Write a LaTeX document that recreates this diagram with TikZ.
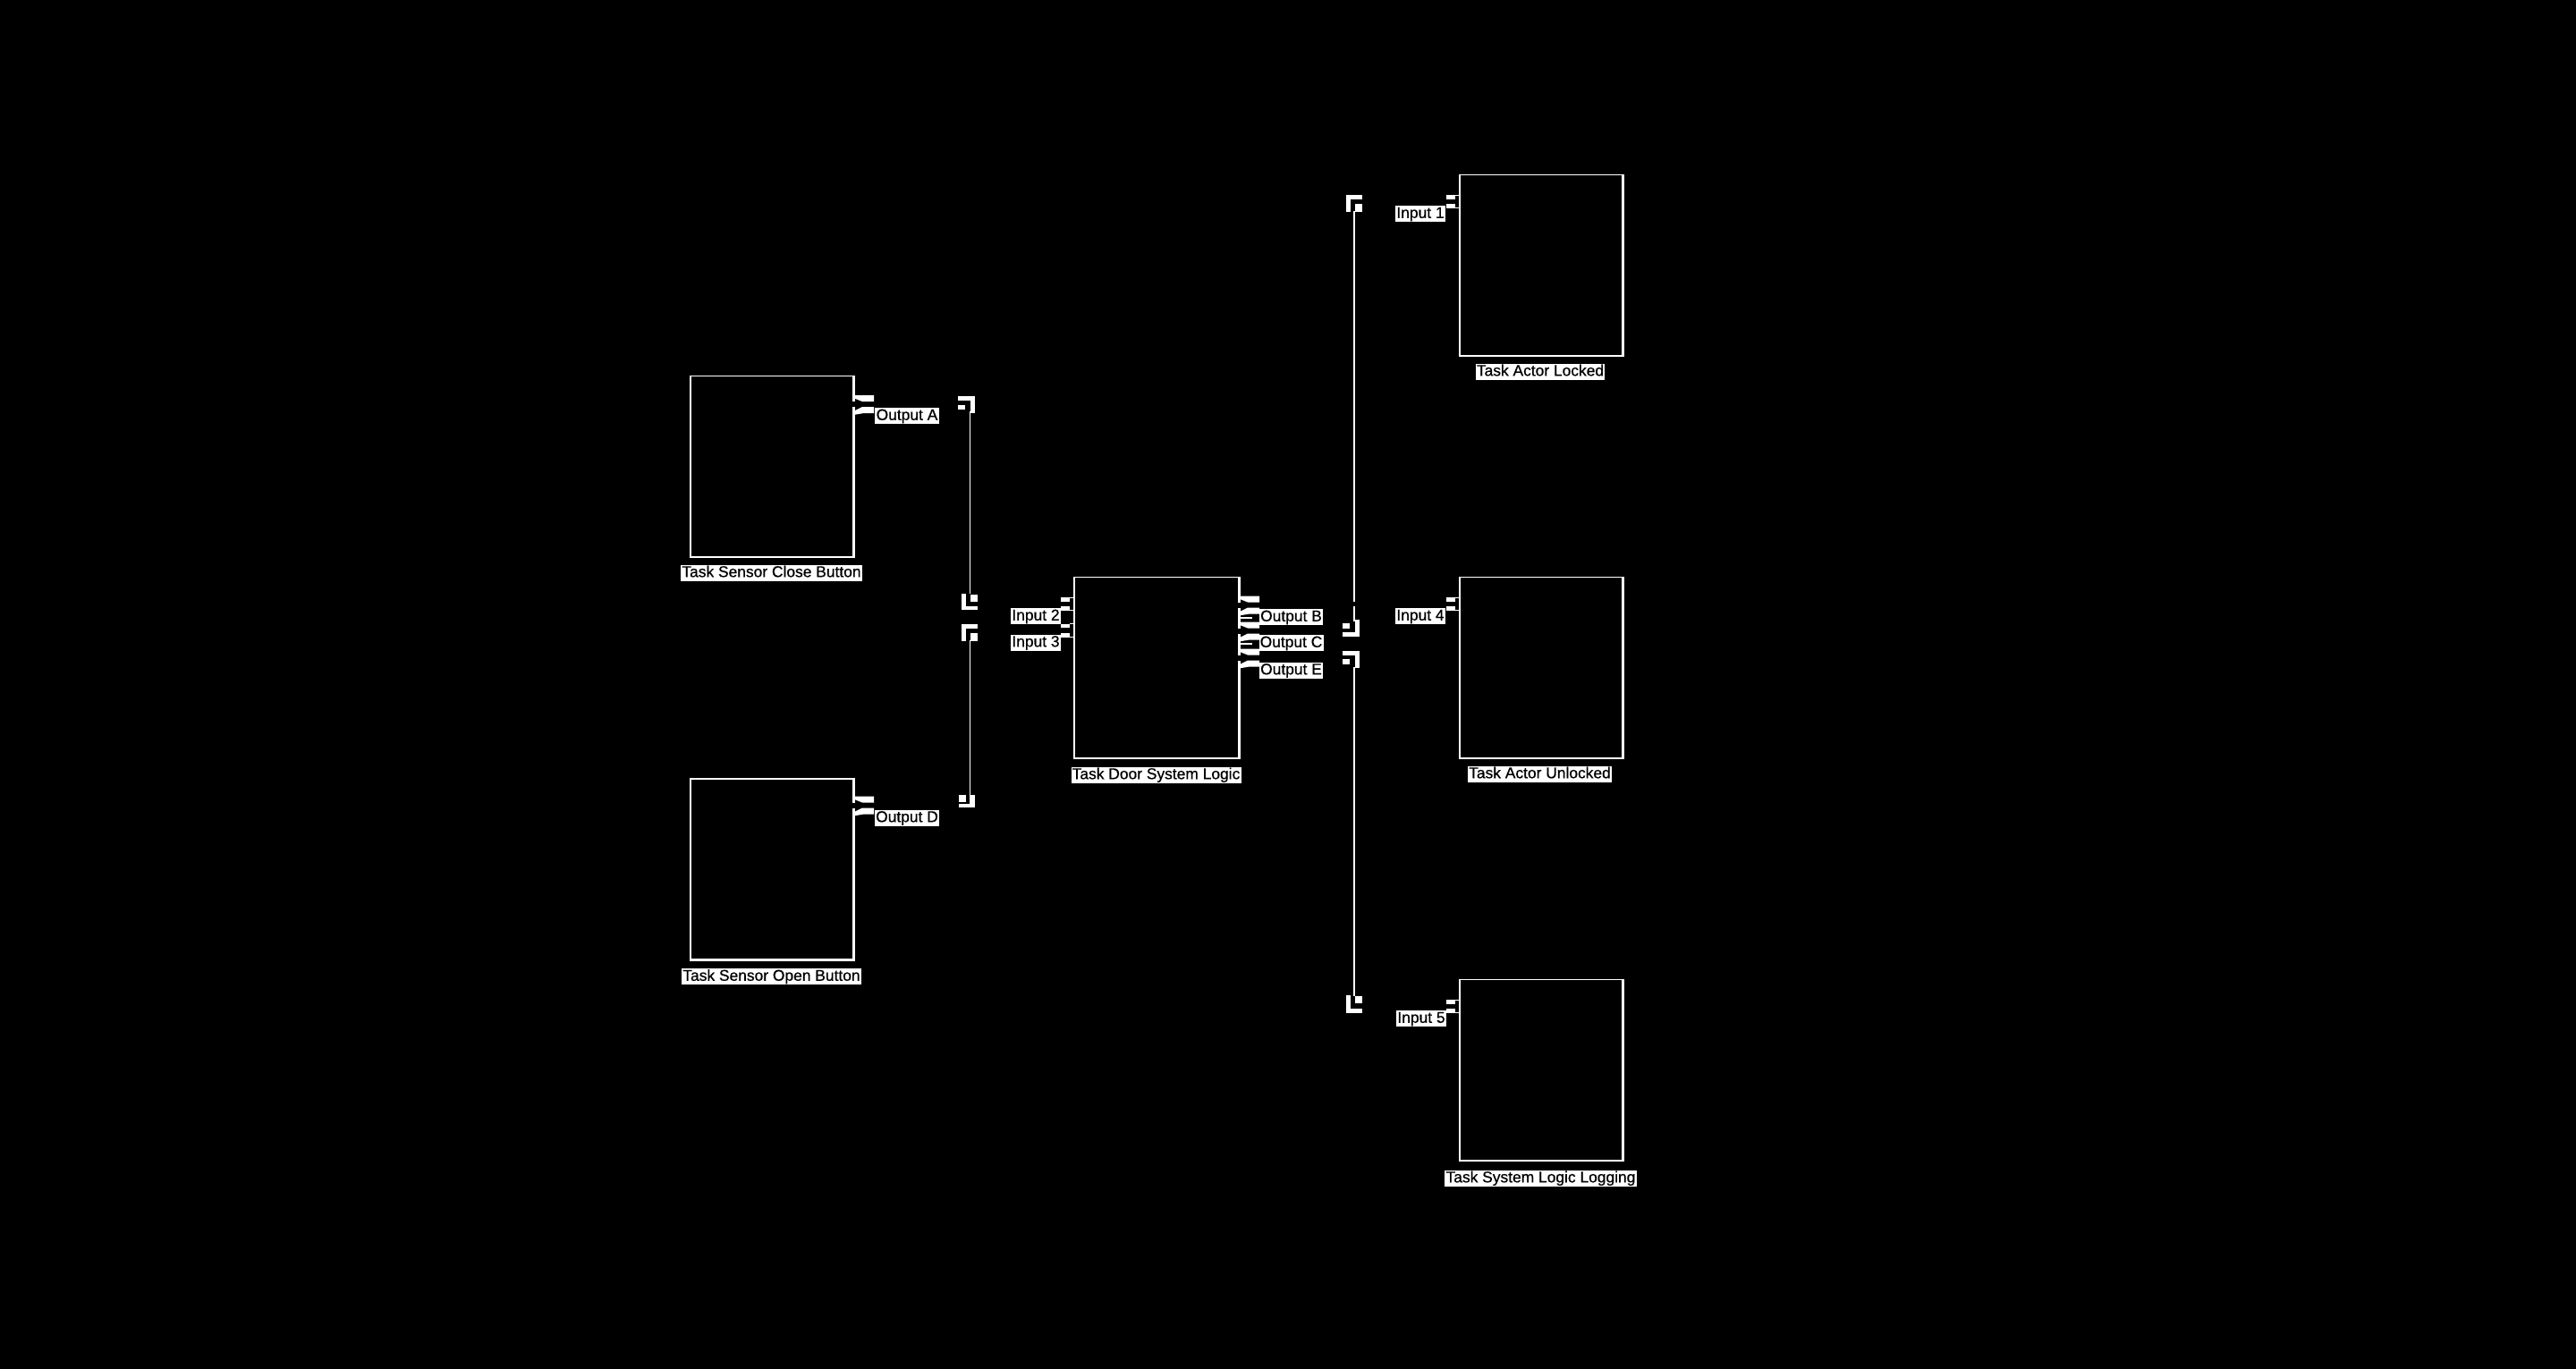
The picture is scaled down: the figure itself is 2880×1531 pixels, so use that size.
\documentclass[tikz,border=0pt]{standalone}
\usepackage{fontspec}
\setmainfont{Liberation Sans}
\newfontfamily\lblfont[FakeBold=0.6]{Liberation Sans}
\newcommand{\outport}[2]{%
  \fill[black] (#1-2,#2-3.5) rectangle (#1+1.5,#2+2.5);
  \fill[white] (#1,#2-10.5) -- (#1+23,#2-10.5) -- (#1+23,#2-3.5) -- (#1+10,#2-3.5) -- (#1,#2-7.5) -- cycle;
  \fill[white] (#1,#2+11.5) -- (#1,#2+7.5) -- (#1+10,#2+2.5) -- (#1+23,#2+2.5) -- (#1+23,#2+9.5) -- (#1+12,#2+9.5) -- cycle;
}
\newcommand{\inport}[2]{%
  \fill[white] (#1-15,#2-21) rectangle (#1-5,#2-16.5);
  \fill[white] (#1-15,#2-11) rectangle (#1-5,#2-6);
  \draw[white,line width=0.5pt] (#1-5,#2-21) -- (#1-1,#2-21) -- (#1-1,#2-16) -- (#1,#2-16);
  \draw[white,line width=0.5pt] (#1-5,#2-6.5) -- (#1-1,#2-6.5) -- (#1-1,#2-3) -- (#1,#2-3);
}
\begin{document}
\begin{tikzpicture}[x=0.5pt,y=-0.5pt,
  taskbox/.style={draw=white,line width=0.65pt,minimum width=91pt,minimum height=101pt,inner sep=0pt},
  lbl/.style={fill=white,text=black,font=\lblfont\fontsize{8.7}{10}\selectfont,inner xsep=0.6pt,inner ysep=0.4pt,text height=6.5pt,text depth=1.7pt},
  wire/.style={draw=white,line width=0.6pt},
  heavyedge/.style={draw=white,line width=1.1pt},
  blob/.style={fill=white}]
\fill[black] (0,0) rectangle (2880,1531);
\useasboundingbox (0,0) rectangle (2880,1531);

% boxes
\node[taskbox] (close) at (863,521.5) {};
\node[taskbox] (open) at (863,972) {};
\node[taskbox,minimum width=92pt] (logic) at (1293,746.5) {};
\node[taskbox] (locked) at (1723,296.5) {};
\node[taskbox] (unlocked) at (1723,746.5) {};
\node[taskbox] (logging) at (1723,1196.5) {};
\foreach \b in {close,open,logic,locked,unlocked,logging}
  \draw[heavyedge] (\b.north east) -- (\b.south east) -- (\b.south west);

% ports
\outport{954}{452.5}
\outport{954}{901}
\outport{1385}{677}
\outport{1385}{706}
\outport{1385}{736}
\draw[white,line width=1pt] (1386,691) -- (1400,691);
\draw[white,line width=1pt] (1386,720) -- (1400,720);
\inport{1201}{689}
\inport{1201}{718.5}
\inport{1632}{239}
\inport{1632}{689}
\inport{1632}{1139}

% box labels
\node[lbl] (lclose) at (862.5,640.5) {Task Sensor Close Button};
\node[lbl] (lopen) at (862.5,1092) {Task Sensor Open Button};
\node[lbl] (llogic) at (1292.5,866.5) {Task Door System Logic};
\node[lbl] (llocked) at (1722,415.5) {Task Actor Locked};
\node[lbl] (lunlocked) at (1721.5,865.5) {Task Actor Unlocked};
\node[lbl] (llogging) at (1722.5,1317.5) {Task System Logic Logging};

% port labels
\node[lbl] (oA) at (1014,465) {Output A};
\node[lbl] (oD) at (1014,914.5) {Output D};
\node[lbl] (i2) at (1158,689) {Input 2};
\node[lbl] (i3) at (1158,718.5) {Input 3};
\node[lbl] (oB) at (1443.5,690) {Output B};
\node[lbl] (oC) at (1443.5,719) {Output C};
\node[lbl] (oE) at (1443.5,749.5) {Output E};
\node[lbl] (i1) at (1588,239) {Input 1};
\node[lbl] (i4) at (1588,689) {Input 4};
\node[lbl] (i5) at (1589,1139) {Input 5};

% wire end points
\coordinate (a1) at (1084.3,460);
\coordinate (a2) at (1084.3,664);
\coordinate (d1) at (1084.3,716);
\coordinate (d2) at (1084.3,890);
\coordinate (r1) at (1514,236);
\coordinate (r1b) at (1514,673);
\coordinate (r1c) at (1514,678);
\coordinate (r1d) at (1514,695);
\coordinate (r2) at (1514,746);
\coordinate (r2b) at (1514,1114);

\draw[wire] (a1) -- (a2);
\draw[wire] (d1) -- (d2);
\draw[wire] (r1) -- (r1b);
\draw[wire] (r1c) -- (r1d);
\draw[wire] (r2) -- (r2b);

% corner marks: left bus
\fill[blob] (1071,443) rectangle (1090,448);
\fill[blob] (1085,443) rectangle (1090,462);
\fill[blob] (1071,453) rectangle (1079,458);

\fill[blob] (1075,664) rectangle (1080,682);
\fill[blob] (1075,678) rectangle (1093,682);
\fill[blob] (1085,665) rectangle (1093,673);

\fill[blob] (1075,698) rectangle (1080,717);
\fill[blob] (1075,698) rectangle (1093,703);
\fill[blob] (1085,708) rectangle (1093,717);

\fill[blob] (1084,889) rectangle (1090,903);
\fill[blob] (1072,899) rectangle (1090,903);
\fill[blob] (1072,889) rectangle (1080,897);

% corner marks: right bus
\fill[blob] (1505,218) rectangle (1510,237);
\fill[blob] (1505,218) rectangle (1523,223);
\fill[blob] (1515,228) rectangle (1523,237);

\fill[blob] (1515,693) rectangle (1520,712);
\fill[blob] (1501,707) rectangle (1520,712);
\fill[blob] (1501,697) rectangle (1509,703);

\fill[blob] (1501,728) rectangle (1520,733);
\fill[blob] (1515,728) rectangle (1520,747);
\fill[blob] (1501,737) rectangle (1509,743);

\fill[blob] (1505,1113) rectangle (1510,1133);
\fill[blob] (1505,1128) rectangle (1523,1133);
\fill[blob] (1515,1114) rectangle (1523,1122);
\end{tikzpicture}
\end{document}
